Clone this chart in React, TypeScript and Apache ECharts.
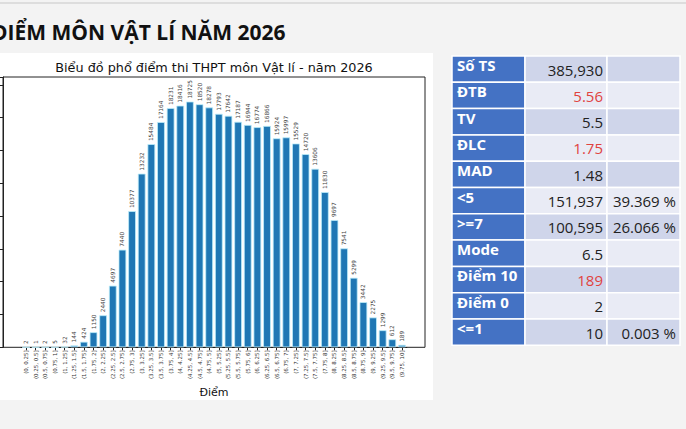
import { useEffect, useRef } from 'react';
import * as echarts from 'echarts';

// Score bins (0.25-point steps) and number of candidates in each bin
const scoreBins = [
  '(0, 0.25]', '(0.25, 0.5]', '(0.5, 0.75]', '(0.75, 1]',
  '(1, 1.25]', '(1.25, 1.5]', '(1.5, 1.75]', '(1.75, 2]',
  '(2, 2.25]', '(2.25, 2.5]', '(2.5, 2.75]', '(2.75, 3]',
  '(3, 3.25]', '(3.25, 3.5]', '(3.5, 3.75]', '(3.75, 4]',
  '(4, 4.25]', '(4.25, 4.5]', '(4.5, 4.75]', '(4.75, 5]',
  '(5, 5.25]', '(5.25, 5.5]', '(5.5, 5.75]', '(5.75, 6]',
  '(6, 6.25]', '(6.25, 6.5]', '(6.5, 6.75]', '(6.75, 7]',
  '(7, 7.25]', '(7.25, 7.5]', '(7.5, 7.75]', '(7.75, 8]',
  '(8, 8.25]', '(8.25, 8.5]', '(8.5, 8.75]', '(8.75, 9]',
  '(9, 9.25]', '(9.25, 9.5]', '(9.5, 9.75]', '(9.75, 10]',
];
const candidateCounts = [
  2, 1, 2, 5, 32, 144, 424, 1150, 2440, 4697,
  7440, 10377, 13232, 15484, 17164, 18231, 18416, 18725, 18520, 18278,
  17793, 17642, 17187, 16944, 16774, 16866, 15924, 15997, 15529, 14720,
  13606, 11830, 9697, 7541, 5299, 3442, 2275, 1299, 612, 189,
];

// Summary statistics table
const statLabels = ['Số TS', 'ĐTB', 'TV', 'ĐLC', 'MAD', '<5', '>=7', 'Mode', 'Điểm 10', 'Điểm 0', '<=1'];
const statValues = ['385,930', '5.56', '5.5', '1.75', '1.48', '151,937', '100,595', '6.5', '189', '2', '10'];
const statShares = ['', '', '', '', '', '39.369 %', '26.066 %', '', '', '', '0.003 %'];
const highlightedStats = ['ĐTB', 'ĐLC', 'Điểm 10'];

const pageTitle = 'ĐIỂM MÔN VẬT LÍ NĂM 2026';
const chartTitle = 'Biểu đồ phổ điểm thi THPT môn Vật lí - năm 2026';
const xAxisName = 'Điểm';

export default function App() {
  const ref = useRef<HTMLDivElement>(null);

  useEffect(() => {
    document.body.style.margin = '0';
    const chart = echarts.init(ref.current!, null, { renderer: 'svg' });

    const yMax = Math.max(...candidateCounts) * 1.1;
    const frame = { left: 3, top: 77, width: 422, height: 270.3 };
    const n = candidateCounts.length;
    // bars are 0.8 wide with 5% padding on each side of their extent
    const span = n - 1 + 0.8;
    const units = span * 1.1;
    const band = frame.width / units;
    const barsLeft = frame.left + (0.05 * span - 0.1) * band;

    // table geometry
    const tbl = { y: 56, rowH: 26.3, cols: [452, 525, 607, 680] };
    const tableEls: any[] = [];
    statLabels.forEach((label, r) => {
      const y = tbl.y + r * tbl.rowH;
      const rowFill = r % 2 === 0 ? '#cfd5ea' : '#e9ebf5';
      for (let c = 0; c < 3; c++) {
        tableEls.push({
          type: 'rect',
          shape: { x: tbl.cols[c], y, width: tbl.cols[c + 1] - tbl.cols[c], height: tbl.rowH },
          style: { fill: c === 0 ? '#4472c4' : rowFill, stroke: '#ffffff', lineWidth: 1.5 },
        });
      }
      tableEls.push({
        type: 'text',
        x: tbl.cols[0] + 5,
        y: y + 16.5,
        style: {
          text: label,
          fill: '#ffffff',
          font: 'bold 15px "Open Sans", sans-serif',
          textAlign: 'left',
          textVerticalAlign: 'bottom',
        },
      });
      tableEls.push({
        type: 'text',
        x: tbl.cols[2] - 4,
        y: y + 21,
        style: {
          text: statValues[r],
          fill: highlightedStats.includes(label) ? '#e0433f' : '#222222',
          font: '15px "Open Sans", sans-serif',
          textAlign: 'right',
          textVerticalAlign: 'bottom',
        },
      });
      if (statShares[r]) {
        tableEls.push({
          type: 'text',
          x: tbl.cols[3] - 4,
          y: y + 21,
          style: {
            text: statShares[r],
            fill: '#222222',
            font: '15px "Open Sans", sans-serif',
            textAlign: 'right',
            textVerticalAlign: 'bottom',
          },
        });
      }
    });

    chart.setOption({
      animation: false,
      backgroundColor: '#f3f3f3',
      textStyle: { fontFamily: '"DejaVu Sans", sans-serif' },
      graphic: [
        { type: 'line', z: -20, shape: { x1: 0, y1: 3, x2: 686, y2: 3 }, style: { stroke: '#d6d6d6', lineWidth: 1.5 } },
        {
          type: 'text', x: -8, y: 32,
          style: {
            text: pageTitle, fill: '#111111',
            font: 'bold 21px "Open Sans", sans-serif',
            textAlign: 'left', textVerticalAlign: 'middle',
          },
        },
        { type: 'rect', z: -20, shape: { x: 0, y: 53, width: 433, height: 347 }, style: { fill: '#ffffff' } },
        {
          type: 'text', x: 214, y: 67,
          style: {
            text: chartTitle, fill: '#111111',
            font: '12.8px "DejaVu Sans", sans-serif',
            textAlign: 'center', textVerticalAlign: 'middle',
          },
        },
        ...tableEls,
      ],
      grid: [
        {
          left: frame.left, top: frame.top, width: frame.width, height: frame.height,
          show: true, borderColor: '#222222', borderWidth: 1, backgroundColor: 'transparent',
        },
        {
          left: barsLeft, top: frame.top, width: n * band, height: frame.height,
        },
      ],
      xAxis: [
        { gridIndex: 0, type: 'value', min: 0, max: 1, show: false },
        {
          gridIndex: 1,
          type: 'category',
          data: scoreBins,
          axisLine: { show: true, lineStyle: { color: '#222222', width: 1 } },
          axisTick: { show: true, alignWithLabel: true, length: 3, lineStyle: { color: '#222222' } },
          axisLabel: { interval: 0, rotate: 90, fontSize: 5.5, color: '#333333', margin: 3 },
          name: xAxisName,
          nameLocation: 'middle',
          nameGap: 36,
          nameTextStyle: { fontSize: 11, color: '#111111' },
        },
      ],
      yAxis: [
        {
          gridIndex: 0, type: 'value', min: 0, max: yMax, interval: 2500,
          axisLine: { show: true, lineStyle: { color: '#222222' } },
          axisTick: { show: true, length: 3, lineStyle: { color: '#222222' } },
          axisLabel: { show: false },
          splitLine: { show: false },
        },
        { gridIndex: 1, type: 'value', min: 0, max: yMax, show: false, splitLine: { show: false } },
      ],
      series: [
        {
          type: 'bar',
          xAxisIndex: 1,
          yAxisIndex: 1,
          data: candidateCounts,
          barWidth: '80%',
          itemStyle: { color: '#1f77b4', borderColor: '#bdeefa', borderWidth: 0.8 },
          label: {
            show: true,
            position: 'top',
            rotate: 90,
            align: 'left',
            verticalAlign: 'middle',
            distance: 3,
            fontSize: 5.8,
            color: '#444444',
          },
        },
      ],
    });

    return () => chart.dispose();
  }, []);

  return <div ref={ref} style={{ position: 'fixed', left: 0, top: 0, width: 686, height: 429 }} />;
}
